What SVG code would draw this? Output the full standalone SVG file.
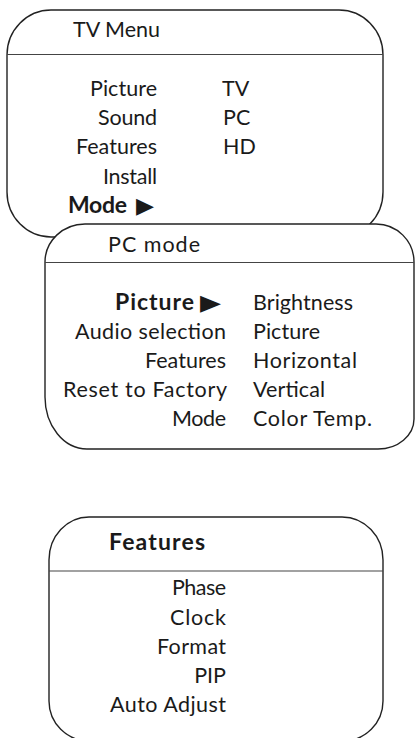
<svg xmlns="http://www.w3.org/2000/svg" width="416" height="738" viewBox="0 0 416 738">
<style>
.box{fill:#fff;stroke:#222;stroke-width:1.4}
.sep{stroke:#444;stroke-width:1.2}
text{font-family:Lato,"Open Sans","Liberation Sans",sans-serif;font-size:21.5px;fill:#1a1a1a}
.b{font-weight:bold;font-size:23px}
.r{text-anchor:end}
.tri{font-family:"DejaVu Sans",sans-serif;font-size:22px}
</style>
<rect width="416" height="738" fill="#fff"/>
<g id="tv-menu">
<rect class="box" x="7" y="10" width="376" height="227" rx="44" ry="45"/>
<line class="sep" x1="7" y1="54.5" x2="383" y2="54.5"/>
<text x="73" y="37" textLength="87">TV Menu</text>
<text class="r" x="157" y="96" textLength="67">Picture</text>
<text class="r" x="157" y="125" textLength="59">Sound</text>
<text class="r" x="157" y="154" textLength="81">Features</text>
<text class="r" x="157" y="184" textLength="54">Install</text>
<text class="b" x="68" y="213" textLength="59">Mode</text>
<text class="tri" x="136" y="213" textLength="18" lengthAdjust="spacingAndGlyphs">▶</text>
<text x="222" y="96">TV</text>
<text x="223" y="125">PC</text>
<text x="223" y="154">HD</text>
</g>
<g id="pc-mode">
<path class="box" d="M85,224 H376 A38,38 0 0 1 414,262 V419 A36,30 0 0 1 378,449 H87 A42,52 0 0 1 45,397 V262 A40,38 0 0 1 85,224 Z"/>
<line class="sep" x1="45" y1="262.5" x2="414" y2="262.5"/>
<text x="108" y="252" textLength="92">PC mode</text>
<text class="b" x="115" y="310" textLength="79">Picture</text>
<text class="tri" x="200" y="310" textLength="21" lengthAdjust="spacingAndGlyphs">▶</text>
<text class="r" x="226" y="339" textLength="151">Audio selection</text>
<text class="r" x="226" y="368" textLength="81">Features</text>
<text class="r" x="227" y="397" textLength="164">Reset to Factory</text>
<text class="r" x="226" y="426" textLength="54">Mode</text>
<text x="253" y="310" textLength="100">Brightness</text>
<text x="253" y="339" textLength="67">Picture</text>
<text x="253" y="368" textLength="104">Horizontal</text>
<text x="253" y="397" textLength="72">Vertical</text>
<text x="253" y="426" textLength="119">Color Temp.</text>
</g>
<g id="features">
<path class="box" d="M89,517 H342 A41,43 0 0 1 383,560 V701 A40,40 0 0 1 343,741 H89 A40,40 0 0 1 49,701 V560 A40,43 0 0 1 89,517 Z"/>
<line class="sep" x1="49" y1="571" x2="383" y2="571"/>
<text class="b" x="109" y="550" textLength="96">Features</text>
<text class="r" x="226" y="595" textLength="54">Phase</text>
<text class="r" x="226" y="625" textLength="56">Clock</text>
<text class="r" x="226" y="654" textLength="69">Format</text>
<text class="r" x="226" y="683">PIP</text>
<text class="r" x="226" y="712" textLength="116">Auto Adjust</text>
</g>
</svg>
